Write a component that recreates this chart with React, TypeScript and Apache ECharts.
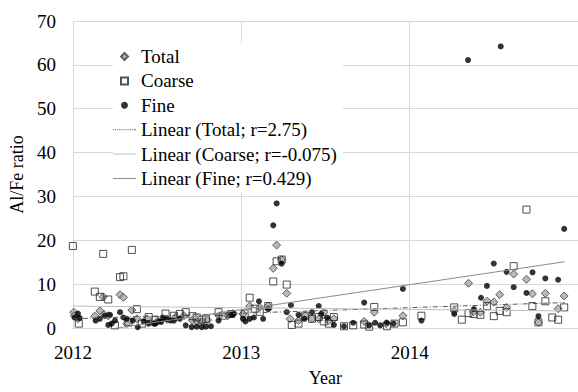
import React, { useEffect, useRef } from "react";
import * as echarts from "echarts";

const FONT = "Liberation Serif";

const seriesNames = ["Total", "Coarse", "Fine"];
const trendNames = [
  "Linear (Total; r=2.75)",
  "Linear (Coarse; r=-0.075)",
  "Linear (Fine; r=0.429)",
];
const xTickLabels = [2012, 2013, 2014];

// [year, Al/Fe ratio]
const totalPoints = [
  [2012.005, 3.6], [2012.008, 2.8], [2012.03, 2.1], [2012.13, 2.7], [2012.16, 3.9],
  [2012.18, 7.1], [2012.21, 2.8], [2012.185, 3.1], [2012.28, 7.6], [2012.3, 7.0],
  [2012.32, 1.0], [2012.35, 4.1], [2012.38, 2.1], [2012.44, 2.1], [2012.5, 1.5],
  [2012.56, 2.0], [2012.61, 2.5], [2012.66, 2.8], [2012.71, 1.7], [2012.74, 1.4],
  [2012.77, 1.5], [2012.8, 1.8], [2012.87, 2.7], [2012.92, 2.8], [2012.95, 3.3],
  [2013.01, 3.2], [2013.05, 5.0], [2013.11, 4.7], [2013.16, 5.0], [2013.19, 13.6],
  [2013.21, 18.9], [2013.24, 15.6], [2013.27, 7.9], [2013.29, 2.1], [2013.34, 1.7],
  [2013.38, 2.8], [2013.42, 2.1], [2013.46, 2.1], [2013.49, 3.6], [2013.52, 1.7],
  [2013.55, 2.1], [2013.73, 1.5], [2013.79, 3.6], [2013.86, 1.0], [2013.96, 2.8],
  [2014.265, 3.9], [2014.35, 10.2], [2014.38, 3.7], [2014.42, 3.6], [2014.46, 6.1],
  [2014.5, 5.9], [2014.535, 7.6], [2014.576, 4.7], [2014.618, 12.3], [2014.694, 11.1],
  [2014.729, 7.8], [2014.765, 1.3], [2014.806, 7.9], [2014.882, 4.4], [2014.918, 7.3],
];

const coarsePoints = [
  [2012.0, 18.7], [2012.035, 1.0], [2012.13, 8.3], [2012.16, 7.1], [2012.18, 16.9],
  [2012.21, 6.5], [2012.25, 0.6], [2012.28, 11.6], [2012.3, 11.8], [2012.33, 1.3],
  [2012.35, 17.8], [2012.38, 4.3], [2012.41, 1.0], [2012.45, 2.5], [2012.49, 1.8],
  [2012.55, 3.3], [2012.6, 2.8], [2012.635, 3.2], [2012.67, 3.6], [2012.71, 2.7],
  [2012.735, 2.4], [2012.765, 1.9], [2012.79, 2.1], [2012.865, 3.6], [2012.89, 2.8],
  [2012.94, 3.2], [2013.02, 3.3], [2013.05, 6.9], [2013.08, 4.4], [2013.11, 3.7],
  [2013.16, 5.0], [2013.19, 10.6], [2013.21, 15.2], [2013.24, 15.6], [2013.27, 9.9],
  [2013.3, 0.7], [2013.34, 1.0], [2013.38, 2.8], [2013.42, 2.1], [2013.46, 2.5],
  [2013.49, 1.5], [2013.52, 1.0], [2013.55, 2.5], [2013.61, 0.4], [2013.665, 0.6],
  [2013.73, 0.8], [2013.76, 0.3], [2013.79, 4.8], [2013.865, 0.4], [2013.91, 1.0],
  [2013.96, 1.3], [2014.07, 2.8], [2014.265, 4.7], [2014.31, 1.9], [2014.35, 3.4],
  [2014.38, 3.2], [2014.42, 3.0], [2014.46, 5.0], [2014.5, 2.7], [2014.535, 3.9],
  [2014.576, 3.6], [2014.618, 14.1], [2014.694, 27.0], [2014.729, 5.0], [2014.765, 1.3],
  [2014.806, 6.1], [2014.847, 2.4], [2014.882, 1.9], [2014.918, 4.7],
];

const finePoints = [
  [2012.01, 2.4], [2012.03, 3.3], [2012.04, 2.3], [2012.135, 1.7], [2012.16, 2.1],
  [2012.19, 2.8], [2012.21, 0.7], [2012.22, 3.0], [2012.23, 1.0], [2012.25, 1.7],
  [2012.28, 3.6], [2012.3, 2.4], [2012.32, 2.1], [2012.355, 1.7], [2012.385, 0.2],
  [2012.42, 1.5], [2012.45, 1.0], [2012.48, 1.0], [2012.49, 1.0], [2012.51, 1.5],
  [2012.525, 1.4], [2012.535, 2.4], [2012.555, 2.0], [2012.58, 1.7], [2012.6, 1.7],
  [2012.635, 2.1], [2012.67, 0.6], [2012.705, 0.2], [2012.735, 0.3], [2012.765, 0.2],
  [2012.79, 0.3], [2012.82, 0.4], [2012.865, 1.7], [2012.94, 3.0], [2012.955, 3.2],
  [2013.01, 2.1], [2013.025, 1.5], [2013.05, 2.1], [2013.075, 2.4], [2013.105, 6.1],
  [2013.13, 2.1], [2013.16, 4.3], [2013.19, 23.4], [2013.21, 28.4], [2013.24, 14.7],
  [2013.27, 3.6], [2013.295, 5.2], [2013.34, 3.0], [2013.375, 2.1], [2013.42, 3.6],
  [2013.46, 5.0], [2013.475, 3.2], [2013.51, 2.4], [2013.55, 0.7], [2013.61, 0.4],
  [2013.665, 1.2], [2013.73, 5.8], [2013.76, 0.6], [2013.795, 1.2], [2013.825, 0.6],
  [2013.865, 1.2], [2013.905, 1.0], [2013.96, 8.9], [2014.07, 1.7], [2014.265, 3.2],
  [2014.347, 61.1], [2014.382, 4.3], [2014.424, 6.9], [2014.459, 9.6], [2014.5, 14.7],
  [2014.541, 64.2], [2014.576, 12.8], [2014.618, 9.3], [2014.694, 8.0], [2014.73, 12.7],
  [2014.765, 2.7], [2014.806, 11.3], [2014.882, 11.0], [2014.918, 22.6],
];

// trend line end points [year, value]
const totalTrend = [[2012.0, 2.1], [2014.92, 5.8]];
const coarseTrend = [[2012.0, 5.0], [2014.92, 3.9]];
const fineTrend = [[2012.0, -1.5], [2014.92, 15.1]];

// legend icon shapes
const diamondIcon = "path://M5,0L10,5L5,10L0,5Z";
const squareIcon = "path://M0,0h10v10h-10z";
const solidLineIcon = "path://M0,0h24v1h-24z";
const dottedLineIcon =
  "path://M0,0h1v1h-1z M2,0h1v1h-1z M4,0h1v1h-1z M6,0h1v1h-1z M8,0h1v1h-1z M10,0h1v1h-1z M12,0h1v1h-1z M14,0h1v1h-1z M16,0h1v1h-1z M18,0h1v1h-1z M20,0h1v1h-1z M22,0h2v1h-2z";

export default function App() {
  const ref = useRef<HTMLDivElement>(null);

  useEffect(() => {
    if (!ref.current) return;
    const chart = echarts.init(ref.current, null, { renderer: "svg" });
    const grey = "#d9d9d9";
    const txt = { fontFamily: FONT, fontSize: 19, color: "#000" };
    const nameTxt = { fontFamily: FONT, fontSize: 18, color: "#000" };
    chart.setOption({
      animation: false,
      backgroundColor: "#fff",
      textStyle: { fontFamily: FONT },
      grid: { left: 68, right: 0, top: 21, bottom: 56, containLabel: false },
      legend: {
        orient: "vertical",
        left: 113,
        top: 43,
        itemWidth: 23,
        itemHeight: 7,
        itemGap: 5.4,
        padding: [4, 6, 4, 0],
        backgroundColor: "#fff",
        symbolKeepAspect: true,
        textStyle: txt,
        data: [
          { name: seriesNames[0], icon: diamondIcon },
          { name: seriesNames[1], icon: squareIcon },
          { name: seriesNames[2], icon: "circle" },
          { name: trendNames[0], icon: dottedLineIcon },
          { name: trendNames[1], icon: solidLineIcon },
          { name: trendNames[2], icon: solidLineIcon },
        ],
      },
      xAxis: {
        type: "value",
        min: 2012,
        max: 2015,
        interval: 1,
        axisLine: { show: true, lineStyle: { color: grey } },
        axisTick: { show: false },
        splitLine: { show: true, lineStyle: { color: grey } },
        axisLabel: {
          ...txt,
          margin: 15,
          showMaxLabel: false,
          formatter: (v: number) => (xTickLabels.includes(v) ? String(v) : ""),
        },
        name: "Year",
        nameLocation: "middle",
        nameGap: 41,
        nameTextStyle: nameTxt,
      },
      yAxis: {
        type: "value",
        min: 0,
        max: 70,
        interval: 10,
        axisLine: { show: true, lineStyle: { color: grey } },
        axisTick: { show: false },
        splitLine: { show: true, lineStyle: { color: grey } },
        axisLabel: { ...txt, margin: 17 },
        name: "Al/Fe ratio",
        nameLocation: "middle",
        nameGap: 41,
        nameTextStyle: nameTxt,
      },
      series: [
        {
          name: seriesNames[0],
          type: "scatter",
          symbol: "diamond",
          symbolSize: 8,
          itemStyle: { color: "#a6a6a6", borderColor: "#404040", borderWidth: 1 },
          data: totalPoints,
        },
        {
          name: seriesNames[1],
          type: "scatter",
          symbol: "rect",
          symbolSize: 7,
          itemStyle: { color: "rgba(255,255,255,0)", borderColor: "#262626", borderWidth: 1 },
          data: coarsePoints,
        },
        {
          name: seriesNames[2],
          type: "scatter",
          symbol: "circle",
          symbolSize: 6,
          itemStyle: { color: "#000" },
          data: finePoints,
        },
        {
          name: trendNames[0],
          type: "line",
          symbol: "none",
          z: 3,
          lineStyle: { color: "#595959", width: 1, type: [5, 2, 1, 2] },
          itemStyle: { color: "#595959" },
          data: totalTrend,
        },
        {
          name: trendNames[1],
          type: "line",
          symbol: "none",
          z: 3,
          lineStyle: { color: "#bfbfbf", width: 1 },
          itemStyle: { color: "#bfbfbf" },
          data: coarseTrend,
        },
        {
          name: trendNames[2],
          type: "line",
          symbol: "none",
          z: 3,
          lineStyle: { color: "#8c8c8c", width: 1 },
          itemStyle: { color: "#8c8c8c" },
          data: fineTrend,
        },
      ],
    });
    return () => chart.dispose();
  }, []);

  return <div ref={ref} style={{ width: 578, height: 392, position: "absolute", left: 0, top: 0 }} />;
}
